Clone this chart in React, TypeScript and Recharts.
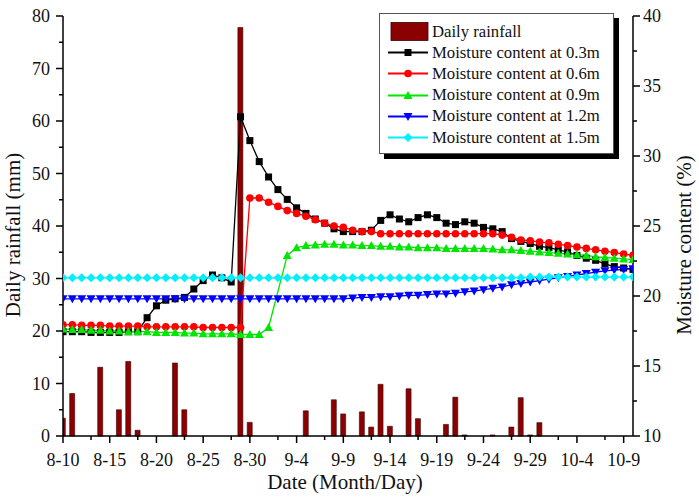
import { ComposedChart, Bar, Line, XAxis, YAxis, Legend, Label } from "recharts";

// day index 0 = 8-10 ... 61 = 10-10
const days = Array.from({ length: 62 }, (_, i) => i);

const majorDays = [0, 5, 10, 15, 20, 25, 30, 35, 40, 45, 50, 55, 60];
const majorLabels = ["8-10", "8-15", "8-20", "8-25", "8-30", "9-4", "9-9", "9-14", "9-19", "9-24", "9-29", "10-4", "10-9"];
const minorDays = [3, 8, 13, 18, 23, 28, 33, 38, 43, 48, 53, 58];

const rainTicks = [0, 5, 10, 15, 20, 25, 30, 35, 40, 45, 50, 55, 60, 65, 70, 75, 80];
const moistTicks = [10, 12.5, 15, 17.5, 20, 22.5, 25, 27.5, 30, 32.5, 35, 37.5, 40];

const seriesNames = [
  "Daily rainfall",
  "Moisture content at 0.3m",
  "Moisture content at 0.6m",
  "Moisture content at 0.9m",
  "Moisture content at 1.2m",
  "Moisture content at 1.5m",
];

// mm
const rainfall = [
  3.4, 8.1, 0, 0, 13.1, 0, 5.0, 14.2, 1.1, 0,
  0, 0, 13.9, 5.0, 0, 0, 0, 0, 0, 77.8,
  2.6, 0, 0, 0, 0, 0, 4.8, 0, 0, 6.9,
  4.2, 0, 4.6, 1.7, 9.85, 1.85, 0, 9.0, 3.3, 0,
  0, 2.2, 7.4, 0.2, 0, 0, 0.2, 0, 1.7, 7.3,
  0.2, 2.55, 0, 0, 0, 0, 0, 0, 0, 0,
  0, 0,
];

// %
const moist03 = [
  17.45, 17.45, 17.45, 17.4, 17.4, 17.4, 17.4, 17.45, 17.45, 18.45,
  19.3, 19.7, 19.8, 19.9, 20.5, 21.1, 21.5, 21.3, 21.0, 32.8,
  31.1, 29.6, 28.5, 27.6, 26.9, 26.3, 25.9, 25.5, 25.2, 24.8,
  24.6, 24.6, 24.6, 24.7, 25.4, 25.8, 25.5, 25.3, 25.6, 25.8,
  25.6, 25.2, 25.1, 25.3, 25.2, 24.9, 24.8, 24.6, 24.1, 23.9,
  23.75, 23.55, 23.45, 23.3, 23.15, 22.9, 22.7, 22.55, 22.3, 22.1,
  22.0, 21.9,
];
const moist06 = [
  17.95, 17.95, 17.9, 17.9, 17.9, 17.85, 17.85, 17.85, 17.85, 17.8,
  17.8, 17.8, 17.8, 17.8, 17.8, 17.75, 17.75, 17.75, 17.75, 17.75,
  27.0, 27.0, 26.7, 26.4, 26.1, 25.9, 25.7, 25.45, 25.2, 25.0,
  24.9, 24.7, 24.6, 24.6, 24.45, 24.45, 24.45, 24.45, 24.45, 24.45,
  24.45, 24.45, 24.45, 24.45, 24.45, 24.45, 24.45, 24.35, 24.2, 24.0,
  23.95, 23.85, 23.8, 23.7, 23.6, 23.5, 23.4, 23.3, 23.2, 23.1,
  23.0, 22.9,
];
const moist09 = [
  17.65, 17.6, 17.6, 17.55, 17.55, 17.5, 17.5, 17.45, 17.45, 17.45,
  17.4, 17.4, 17.4, 17.35, 17.35, 17.3, 17.3, 17.3, 17.3, 17.25,
  17.25, 17.25, 17.75, null, 22.9, 23.45, 23.6, 23.65, 23.7, 23.7,
  23.65, 23.65, 23.6, 23.6, 23.55, 23.55, 23.5, 23.5, 23.45, 23.45,
  23.45, 23.4, 23.4, 23.4, 23.4, 23.4, 23.35, 23.3, 23.3, 23.25,
  23.2, 23.15, 23.1, 23.05, 23.0, 22.95, 22.9, 22.8, 22.75, 22.7,
  22.65, 22.6,
];
const moist12 = [
  19.8, 19.8, 19.8, 19.8, 19.8, 19.8, 19.8, 19.8, 19.8, 19.8,
  19.8, 19.8, 19.8, 19.8, 19.8, 19.8, 19.8, 19.8, 19.8, 19.8,
  19.8, 19.8, 19.8, 19.8, 19.8, 19.8, 19.8, 19.8, 19.8, 19.8,
  19.8, 19.85, 19.9, 19.9, 19.95, 19.95, 20.0, 20.05, 20.05, 20.1,
  20.15, 20.15, 20.2, 20.3, 20.35, 20.45, 20.55, 20.65, 20.8, 20.9,
  21.0, 21.1, 21.2, 21.3, 21.4, 21.5, 21.6, 21.7, 21.8, 21.85,
  21.9, 21.95,
];
const moist15 = [
  21.3, 21.3, 21.3, 21.3, 21.3, 21.3, 21.3, 21.3, 21.3, 21.3,
  21.3, 21.3, 21.3, 21.3, 21.3, 21.3, 21.3, 21.3, 21.3, 21.3,
  21.3, 21.3, 21.3, 21.3, 21.3, 21.3, 21.3, 21.3, 21.3, 21.3,
  21.3, 21.3, 21.3, 21.3, 21.3, 21.3, 21.3, 21.3, 21.3, 21.3,
  21.3, 21.3, 21.3, 21.3, 21.3, 21.3, 21.3, 21.3, 21.3, 21.3,
  21.35, 21.35, 21.35, 21.35, 21.35, 21.35, 21.35, 21.35, 21.35, 21.35,
  21.35, 21.35,
];

const data = days.map((d, i) => ({
  day: d,
  rain: rainfall[i],
  m03: moist03[i],
  m06: moist06[i],
  m09: moist09[i],
  m12: moist12[i],
  m15: moist15[i],
}));

const FONT = "Liberation Serif, Times New Roman, Tinos, DejaVu Serif, serif";
const COLORS = {
  bar: "#8B0000",
  m03: "#000000",
  m06: "#FF0000",
  m09: "#00E600",
  m12: "#0000FF",
  m15: "#00F0FF",
};

type Shape = "square" | "circle" | "up" | "down" | "diamond";

function Marker({ cx, cy, shape, color }: { cx: number; cy: number; shape: Shape; color: string }) {
  if (shape === "square") return <rect x={cx - 3.5} y={cy - 3.5} width={7} height={7} fill={color} />;
  if (shape === "circle") return <circle cx={cx} cy={cy} r={3.8} fill={color} />;
  if (shape === "up")
    return <polygon points={`${cx},${cy - 4.5} ${cx + 4.5},${cy + 3.5} ${cx - 4.5},${cy + 3.5}`} fill={color} />;
  if (shape === "down")
    return <polygon points={`${cx},${cy + 4.5} ${cx + 4.5},${cy - 3.5} ${cx - 4.5},${cy - 3.5}`} fill={color} />;
  return <polygon points={`${cx},${cy - 4.5} ${cx + 4.5},${cy} ${cx},${cy + 4.5} ${cx - 4.5},${cy}`} fill={color} />;
}

const dotFor = (shape: Shape, color: string) => (props: any) => {
  const { cx, cy, index } = props;
  if (cx == null || cy == null || props.value == null) return <g key={`e-${index}`} />;
  return (
    <g key={`d-${index}`}>
      <Marker cx={cx} cy={cy} shape={shape} color={color} />
    </g>
  );
};

function XTick({ x, y, payload }: any) {
  const i = majorDays.indexOf(payload.value);
  const major = i >= 0;
  return (
    <g>
      <line x1={x} x2={x} y1={y} y2={y + (major ? 7 : 4)} stroke="#000" strokeWidth={1.5} />
      {major && (
        <text x={x} y={y + 30} textAnchor="middle" fontSize={18} style={{ fontFamily: FONT }} fill="#111">
          {majorLabels[i]}
        </text>
      )}
    </g>
  );
}

function LeftTick({ x, y, payload }: any) {
  const major = payload.value % 10 === 0;
  return (
    <g>
      <line x1={x} x2={x - (major ? 7 : 4)} y1={y} y2={y} stroke="#000" strokeWidth={1.5} />
      {major && (
        <text x={x - 13} y={y} dy="0.35em" textAnchor="end" fontSize={18} style={{ fontFamily: FONT }} fill="#111">
          {payload.value}
        </text>
      )}
    </g>
  );
}

function RightTick({ x, y, payload }: any) {
  const major = payload.value % 5 === 0;
  return (
    <g>
      <line x1={x} x2={x + (major ? 7 : 4)} y1={y} y2={y} stroke="#000" strokeWidth={1.5} />
      {major && (
        <text x={x + 10} y={y} dy="0.35em" textAnchor="start" fontSize={18} style={{ fontFamily: FONT }} fill="#111">
          {payload.value}
        </text>
      )}
    </g>
  );
}

const legendIcons: { shape: Shape | "bar"; color: string }[] = [
  { shape: "bar", color: COLORS.bar },
  { shape: "square", color: COLORS.m03 },
  { shape: "circle", color: COLORS.m06 },
  { shape: "up", color: COLORS.m09 },
  { shape: "down", color: COLORS.m12 },
  { shape: "diamond", color: COLORS.m15 },
];

function LegendBox() {
  return (
    <div
      style={{
        border: "1px solid #555",
        background: "#fff",
        boxShadow: "5px 5px 0 #000",
        padding: "7px 0 6px 0",
        boxSizing: "border-box",
        width: 235,
        height: 141,
      }}
    >
      {seriesNames.map((name, i) => {
        const icon = legendIcons[i];
        return (
          <div key={name} style={{ display: "flex", alignItems: "center", height: 21.2 }}>
            <svg width={52} height={21} style={{ flex: "none" }}>
              {icon.shape === "bar" ? (
                <rect x={11} y={1.5} width={37} height={18} fill={icon.color} stroke="#3a0000" strokeWidth={0.8} />
              ) : (
                <>
                  <line x1={8} x2={48} y1={10.5} y2={10.5} stroke={icon.color} strokeWidth={2} />
                  <Marker cx={28} cy={10.5} shape={icon.shape} color={icon.color} />
                </>
              )}
            </svg>
            <span style={{ fontFamily: FONT, fontSize: 16.7, color: "#111", whiteSpace: "nowrap" }}>{name}</span>
          </div>
        );
      })}
    </div>
  );
}

export default function App() {
  return (
    <div style={{ width: 699, height: 497, background: "#fff", position: "relative", fontFamily: FONT }}>
      <style>{"body{margin:0;background:#fff}"}</style>
      <ComposedChart width={699} height={497} data={data} margin={{ top: 16, right: 0, bottom: 0, left: 0 }}>
        <XAxis
          dataKey="day"
          type="number"
          domain={[0, 61]}
          ticks={[...majorDays, ...minorDays].sort((a, b) => a - b)}
          interval={0}
          height={61}
          tickSize={0}
          tickMargin={0}
          tickLine={false}
          tick={<XTick />}
          axisLine={{ stroke: "#000", strokeWidth: 1.5 }}
          allowDataOverflow
        >
          <Label
            content={({ viewBox }: any) => (
              <text
                x={viewBox.x + viewBox.width / 2 - 3}
                y={viewBox.y + 53}
                textAnchor="middle"
                fontSize={21}
                style={{ fontFamily: FONT }}
                fill="#111"
              >
                Date (Month/Day)
              </text>
            )}
          />
        </XAxis>
        <YAxis
          yAxisId="rain"
          domain={[0, 80]}
          ticks={rainTicks}
          interval={0}
          width={63}
          tickSize={0}
          tickMargin={0}
          tickLine={false}
          tick={<LeftTick />}
          axisLine={{ stroke: "#000", strokeWidth: 1.5 }}
        >
          <Label
            content={({ viewBox }: any) => {
              const cx = viewBox.x + 13;
              const cy = viewBox.y + viewBox.height / 2 + 9;
              return (
                <text
                  x={cx}
                  y={cy}
                  transform={`rotate(-90, ${cx}, ${cy})`}
                  textAnchor="middle"
                  dominantBaseline="central"
                  fontSize={21}
                  style={{ fontFamily: FONT }}
                  fill="#111"
                >
                  Daily rainfall (mm)
                </text>
              );
            }}
          />
        </YAxis>
        <YAxis
          yAxisId="moist"
          orientation="right"
          domain={[10, 40]}
          ticks={moistTicks}
          interval={0}
          width={66}
          tickSize={0}
          tickMargin={0}
          tickLine={false}
          tick={<RightTick />}
          axisLine={{ stroke: "#000", strokeWidth: 1.5 }}
        >
          <Label
            content={({ viewBox }: any) => {
              const cx = viewBox.x + 51;
              const cy = viewBox.y + viewBox.height / 2 + 19;
              return (
                <text
                  x={cx}
                  y={cy}
                  transform={`rotate(-90, ${cx}, ${cy})`}
                  textAnchor="middle"
                  dominantBaseline="central"
                  fontSize={21}
                  style={{ fontFamily: FONT }}
                  fill="#111"
                >
                  Moisture content (%)
                </text>
              );
            }}
          />
        </YAxis>
        <Legend
          layout="vertical"
          align="center"
          verticalAlign="middle"
          wrapperStyle={{ left: 379, top: 13, width: 235, height: 141 }}
          content={() => <LegendBox />}
        />
        <Bar
          yAxisId="rain"
          dataKey="rain"
          barSize={5}
          fill={COLORS.bar}
          stroke="#3a0000"
          strokeWidth={0.6}
          isAnimationActive={false}
        />
        <Line yAxisId="moist" dataKey="m03" stroke={COLORS.m03} strokeWidth={1.3} dot={dotFor("square", COLORS.m03)} connectNulls isAnimationActive={false} />
        <Line yAxisId="moist" dataKey="m06" stroke={COLORS.m06} strokeWidth={1.3} dot={dotFor("circle", COLORS.m06)} connectNulls isAnimationActive={false} />
        <Line yAxisId="moist" dataKey="m09" stroke={COLORS.m09} strokeWidth={1.3} dot={dotFor("up", COLORS.m09)} connectNulls isAnimationActive={false} />
        <Line yAxisId="moist" dataKey="m12" stroke={COLORS.m12} strokeWidth={1.3} dot={dotFor("down", COLORS.m12)} connectNulls isAnimationActive={false} />
        <Line yAxisId="moist" dataKey="m15" stroke={COLORS.m15} strokeWidth={1.3} dot={dotFor("diamond", COLORS.m15)} connectNulls isAnimationActive={false} />
      </ComposedChart>
    </div>
  );
}
